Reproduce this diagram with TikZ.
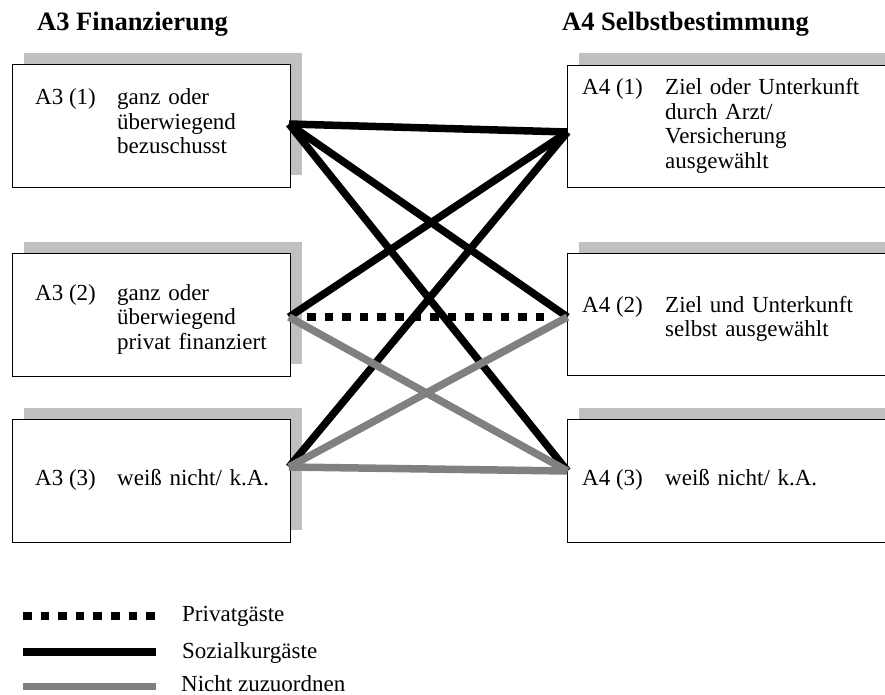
\documentclass[tikz,border=0pt]{standalone}
\usepackage{fontspec}
\setmainfont{Liberation Serif}
\definecolor{shadowgray}{HTML}{C0C0C0}
\definecolor{linkgray}{HTML}{808080}
\begin{document}
\begin{tikzpicture}[x=1pt,y=-1pt,
  shade box/.style={fill=shadowgray,draw=none},
  cat box/.style={draw=black,fill=white,line width=1.2pt,inner sep=0pt,anchor=north west},
  lbl/.style={anchor=base west,inner sep=0pt,font=\fontsize{23}{24.5}\selectfont},
  body/.style={lbl,text width=215pt,align=left},
  head/.style={anchor=base west,inner sep=0pt,font=\fontsize{26.5}{28}\selectfont\bfseries},
  link/.style={line width=7.5pt,line cap=butt},
  sozial/.style={link,draw=black},
  nicht/.style={link,draw=linkgray},
  privat/.style={link,draw=black,dash pattern=on 8.5pt off 9.1pt},
]
\useasboundingbox (0,0) rectangle (885,695);
\begin{scope}
\clip (0,0) rectangle (885,695);

% column headings
\node[head] (h3) at (37,31) {A3 Finanzierung};
\node[head] (h4) at (562,31) {A4 Selbstbestimmung};

% shadows behind the boxes
\fill[shadowgray] (24,53) rectangle (302,175);
\fill[shadowgray] (24,242) rectangle (302,364);
\fill[shadowgray] (24,408) rectangle (302,530);
\fill[shadowgray] (579,53) rectangle (900,175);
\fill[shadowgray] (579,242) rectangle (900,364);
\fill[shadowgray] (579,408) rectangle (900,530);

% answer boxes
\node[cat box,minimum width=278pt,minimum height=123pt] (L1) at (12,64) {};
\node[cat box,minimum width=278pt,minimum height=123pt] (L2) at (12,253) {};
\node[cat box,minimum width=278pt,minimum height=123pt] (L3) at (12,419) {};
\node[cat box,minimum width=333pt,minimum height=122pt] (R1) at (567,65) {};
\node[cat box,minimum width=333pt,minimum height=122pt] (R2) at (567,253) {};
\node[cat box,minimum width=333pt,minimum height=123pt] (R3) at (567,419) {};

% box texts
\node[lbl] (t1a) at (35,105) {A3 (1)};
\node[body] (t1b) at (117,105) {ganz oder\\überwiegend\\bezuschusst};
\node[lbl] (t2a) at (35,300) {A3 (2)};
\node[body] (t2b) at (117,300) {ganz oder\\überwiegend\\privat finanziert};
\node[lbl] (t3a) at (35,485) {A3 (3)};
\node[body] (t3b) at (117,485) {weiß nicht/ k.A.};
\node[lbl] (u1a) at (582,95) {A4 (1)};
\node[body] (u1b) at (665,95) {Ziel oder Unterkunft\\durch Arzt/\\Versicherung\\ausgewählt};
\node[lbl] (u2a) at (582,312) {A4 (2)};
\node[body] (u2b) at (665,312) {Ziel und Unterkunft\\selbst ausgewählt};
\node[lbl] (u3a) at (582,485) {A4 (3)};
\node[body] (u3b) at (665,485) {weiß nicht/ k.A.};

% connection points on the box edges
\coordinate (a1) at (289,124);
\coordinate (a2) at (289,317);
\coordinate (a3) at (289,467);
\coordinate (b1) at (567.5,132);
\coordinate (b2) at (567.5,317);
\coordinate (b3) at (567.5,471);

% links
\draw[sozial] (a1) -- (b1);
\draw[sozial] (a1) -- (b2);
\draw[sozial] (a1) -- (b3);
\draw[sozial] (a2) -- (b1);
\draw[sozial] (a3) -- (b1);
\draw[nicht] (a2) -- (b3);
\draw[nicht] (a3) -- (b2);
\draw[nicht] (a3) -- (b3);
\draw[privat,shorten <=18pt,shorten >=21pt] (a2) -- (b2);

% legend
\coordinate (k1a) at (23,616);  \coordinate (k1b) at (156,616);
\coordinate (k2a) at (23,652);  \coordinate (k2b) at (156,652);
\coordinate (k3a) at (23,686);  \coordinate (k3b) at (156,686);
\draw[privat] (k1a) -- (k1b);
\draw[sozial,line width=8pt] (k2a) -- (k2b);
\draw[nicht,line width=7pt] (k3a) -- (k3b);
\node[lbl] (k1t) at (182,621) {Privatgäste};
\node[lbl] (k2t) at (182,658) {Sozialkurgäste};
\node[lbl] (k3t) at (181,691) {Nicht zuzuordnen};
\end{scope}
\end{tikzpicture}
\end{document}
